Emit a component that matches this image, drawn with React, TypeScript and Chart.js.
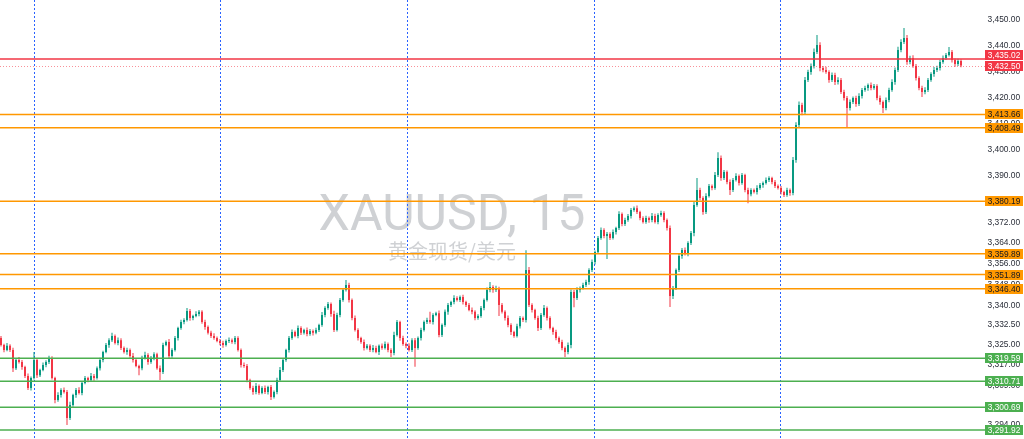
import React, { useEffect, useRef } from 'react';
import { Chart, registerables } from 'chart.js';

Chart.register(...registerables);

// ---------- data ----------
const firstOpen = 3327.4;

const closes: number[] = [
  3324.7,3322.8,3324.4,3322.8,3315.8,3318.9,3318.2,3316.2,3312.8,3308.1,3312.0,3318.9,3313.1,3315.1,3317.0,3318.2,3319.7,3312.0,3303.5,3305.4,
  3307.4,3306.6,3296.6,3301.6,3305.4,3307.4,3306.2,3310.1,3312.0,3311.2,3312.8,3312.0,3315.8,3318.9,3322.0,3324.7,3326.6,3328.2,3325.5,3326.6,
  3323.6,3322.0,3322.8,3320.5,3318.9,3316.6,3315.8,3319.7,3320.9,3318.2,3319.7,3321.2,3315.8,3314.3,3324.7,3325.9,3320.5,3322.8,3327.4,3331.3,
  3333.6,3334.4,3337.8,3335.1,3335.9,3336.7,3337.5,3333.6,3331.7,3329.4,3328.2,3327.4,3326.3,3325.5,3324.7,3326.3,3326.6,3325.9,3327.4,3322.8,
  3317.0,3316.6,3311.2,3308.1,3306.6,3308.9,3306.2,3308.1,3306.6,3308.5,3304.7,3306.6,3311.2,3315.1,3318.9,3322.8,3327.4,3329.7,3328.2,3331.3,
  3329.4,3330.5,3329.0,3330.1,3329.4,3330.5,3332.4,3336.3,3339.0,3340.5,3336.7,3330.5,3336.3,3342.1,3345.9,3347.9,3342.1,3335.1,3330.5,3327.4,
  3325.9,3323.6,3324.4,3322.8,3323.6,3322.0,3324.4,3323.6,3325.1,3322.8,3321.6,3328.6,3333.6,3327.4,3325.1,3324.4,3322.8,3326.6,3323.6,3327.4,
  3330.5,3333.6,3334.4,3333.6,3336.3,3337.0,3328.6,3332.4,3337.5,3340.1,3341.3,3342.8,3342.1,3343.2,3341.3,3340.1,3338.2,3337.5,3335.1,3335.9,
  3339.0,3342.1,3345.9,3347.1,3345.9,3346.7,3340.1,3337.5,3335.1,3332.4,3329.7,3328.2,3332.0,3335.1,3334.4,3353.6,3340.1,3338.2,3335.1,3331.3,
  3336.3,3339.0,3335.1,3331.3,3329.7,3327.4,3325.9,3323.6,3322.0,3324.7,3345.2,3342.8,3345.9,3346.7,3347.9,3349.0,3353.6,3356.7,3360.6,3366.0,
  3369.1,3366.8,3367.5,3366.0,3368.3,3369.8,3375.2,3371.4,3372.9,3374.5,3376.8,3377.5,3376.0,3373.7,3372.2,3373.7,3372.9,3374.5,3372.2,3374.9,
  3375.6,3372.9,3369.8,3343.6,3346.7,3353.6,3359.0,3361.4,3359.8,3364.1,3367.9,3378.7,3384.5,3381.4,3376.0,3382.2,3386.0,3385.3,3390.3,3396.8,
  3389.1,3391.4,3387.6,3384.5,3388.4,3389.9,3387.2,3390.3,3384.5,3382.9,3384.5,3383.7,3385.3,3386.4,3387.2,3388.4,3389.1,3387.6,3386.0,3385.3,
  3383.7,3382.6,3384.5,3383.3,3396.1,3409.6,3417.3,3414.6,3426.9,3430.0,3432.3,3437.7,3440.4,3431.5,3430.8,3430.0,3426.9,3428.8,3426.1,3426.9,
  3422.3,3420.0,3416.1,3418.4,3420.0,3417.7,3420.7,3423.1,3423.8,3425.0,3423.8,3424.6,3420.0,3418.4,3416.1,3419.2,3423.1,3426.1,3430.8,3438.5,
  3441.6,3443.1,3433.9,3435.4,3432.3,3427.7,3423.8,3422.3,3423.1,3426.9,3429.2,3430.8,3431.5,3433.9,3435.4,3436.6,3437.7,3434.6,3433.1,3434.2,
  3432.5,
];

const upperWicks: number[] = [
  0.8,0.5,1.1,0.6,0.9,0.4,1.2,0.7,0.5,0.9,0.6,3.1,0.8,0.5,1.0,0.6,0.9,0.7,0.5,1.1,
  0.6,0.9,0.8,1.2,0.5,0.7,1.0,0.6,0.8,0.5,1.1,0.7,0.6,0.9,0.5,0.8,0.7,1.2,0.6,1.0,
  0.7,0.5,0.9,0.6,1.1,0.8,0.5,0.9,1.2,0.6,0.8,0.7,0.5,1.0,0.9,0.6,1.1,0.7,0.8,0.5,
  0.9,0.6,1.2,0.8,0.5,1.0,0.7,0.6,0.9,0.5,0.8,1.1,0.6,0.7,0.9,0.5,1.0,0.6,0.8,0.7,
  0.6,1.0,0.8,0.5,0.9,1.2,0.6,0.7,1.0,0.5,0.8,0.6,0.9,1.1,0.7,0.5,0.8,1.0,0.6,0.9,
  0.7,0.5,1.0,0.8,0.6,0.9,0.5,1.1,0.7,0.8,0.6,1.2,0.9,0.7,0.5,1.9,0.8,0.6,1.0,0.7,
  0.5,0.9,0.7,0.6,1.1,0.8,0.5,0.9,1.0,0.6,0.7,1.2,0.8,0.5,0.9,0.6,1.0,0.7,0.8,0.6,
  0.9,0.6,0.8,3.1,0.7,0.5,1.0,0.6,0.9,0.8,0.5,1.1,0.7,0.6,0.9,0.5,0.8,1.0,0.6,0.7,
  0.8,0.6,1.0,1.9,0.7,0.9,0.5,0.8,0.6,1.0,0.7,0.5,0.9,0.8,0.6,7.7,1.2,0.7,0.5,0.9,
  0.8,1.1,0.6,0.7,0.5,0.9,0.6,0.8,0.5,1.0,0.9,0.7,1.1,0.6,0.8,0.9,0.7,1.0,0.6,0.8,
  0.9,0.6,0.8,0.7,1.0,0.5,1.1,0.6,0.9,0.7,0.8,0.6,1.0,0.5,0.7,0.9,0.6,1.1,0.8,0.6,
  0.9,0.7,0.6,1.0,0.8,0.6,1.1,0.7,0.9,0.6,0.8,1.2,4.6,0.9,0.7,1.0,0.8,0.6,1.1,2.3,
  1.0,0.8,0.6,0.9,0.7,1.1,0.6,0.8,0.5,0.9,0.7,0.6,1.0,0.8,0.6,0.9,0.7,0.5,0.8,0.6,
  0.7,0.5,0.9,0.6,1.1,1.0,1.3,0.8,1.2,0.9,1.0,1.4,3.9,1.1,0.8,1.2,0.7,1.0,0.9,1.1,
  0.8,0.9,0.7,1.0,0.6,0.8,1.1,0.7,0.9,0.6,1.0,0.8,0.7,0.9,0.6,1.0,0.8,1.1,0.9,1.2,
  1.0,3.9,1.2,0.9,1.1,0.8,0.7,0.9,1.0,0.8,0.7,1.1,0.9,0.8,1.0,0.7,1.9,0.8,0.6,0.9,
  0.7,
];

const lowerWicks: number[] = [
  0.6,0.9,0.5,0.8,1.5,0.7,0.6,1.0,0.8,0.7,0.9,0.6,1.1,0.7,0.5,0.9,0.8,0.6,1.2,0.7,
  0.9,0.6,2.7,0.8,0.7,1.0,0.6,0.9,0.5,0.8,0.7,1.1,0.6,0.9,0.8,0.5,1.0,0.7,0.6,0.9,
  0.8,0.6,1.0,0.7,0.9,0.5,2.7,0.8,0.6,1.1,0.7,0.9,0.6,3.1,0.8,0.5,1.0,0.7,0.6,0.9,
  0.7,0.9,0.6,1.0,0.8,0.5,0.9,0.7,1.1,0.6,0.8,0.7,0.5,0.9,1.0,0.6,0.8,0.7,0.9,0.6,
  1.0,0.7,0.8,0.6,1.1,0.9,0.7,0.5,0.8,1.0,1.2,0.6,0.9,0.7,0.8,0.6,1.0,0.7,0.5,0.9,
  0.8,0.6,0.9,0.7,1.0,0.5,0.8,0.6,0.9,0.7,1.1,0.8,0.6,0.9,0.7,0.5,1.0,0.8,0.6,0.9,
  0.7,1.0,0.6,0.8,0.9,0.5,1.1,0.7,0.6,0.9,1.5,0.8,0.6,1.0,0.7,0.9,0.6,0.8,7.3,0.7,
  0.9,0.6,0.8,0.7,1.0,0.5,0.9,0.8,0.6,1.1,0.7,0.9,0.6,0.8,1.0,0.7,0.5,0.9,0.8,0.6,
  0.7,0.9,0.6,0.8,1.0,0.7,4.2,0.6,0.9,0.8,1.1,0.7,0.6,0.9,0.8,1.0,0.7,0.9,0.6,1.2,
  0.8,0.7,0.9,0.6,1.0,0.8,0.7,0.9,1.9,0.8,1.2,3.5,0.7,0.9,0.6,0.8,1.0,0.7,0.9,0.8,
  0.7,0.9,8.9,0.8,0.6,1.0,0.7,0.9,0.8,0.6,1.0,0.7,0.8,0.9,0.6,0.7,1.0,0.8,0.6,0.9,
  0.7,0.8,0.9,4.2,1.1,0.8,0.7,1.0,0.6,0.9,0.8,1.2,0.7,0.9,1.0,0.8,0.6,0.9,0.7,0.8,
  1.0,0.7,0.9,1.9,0.8,0.6,1.0,0.7,0.9,3.5,0.8,0.6,0.9,0.7,1.0,0.6,0.8,0.9,0.7,0.6,
  0.9,0.8,0.7,1.0,0.8,1.1,0.9,1.3,1.0,0.8,1.1,0.9,0.8,1.2,0.9,0.7,1.0,0.8,1.1,0.9,
  0.8,1.0,7.3,0.9,0.7,1.1,0.8,0.9,0.7,1.0,0.8,0.6,0.9,1.0,1.9,0.8,0.9,0.7,1.0,0.8,
  0.9,0.8,1.1,0.9,0.7,1.0,0.8,1.9,0.9,0.8,0.7,1.0,0.8,0.9,0.7,0.8,0.6,0.9,1.1,0.8,
  0.7,
];

const priceTicks: number[] = [3450, 3440, 3430, 3420, 3410, 3400, 3390, 3380, 3372, 3364, 3356, 3348, 3340, 3332.5, 3325, 3317, 3309, 3301, 3294];
const sessionBreaks: number[] = [11, 73, 135.3, 197.7, 259.7];
const resistanceLevels: number[] = [3413.66, 3408.49, 3380.19, 3359.89, 3351.89, 3346.40];
const supportLevels: number[] = [3319.59, 3310.71, 3300.69, 3291.92];
const referencePrice = 3435.02;
const lastPrice = 3432.5;
const symbolTitle = 'XAUUSD, 15';
const symbolSubtitle = '黄金现货/美元';

// ---------- styles ----------
const UP = '#089981';
const DOWN = '#f23645';
const ORANGE = '#ff9800';
const GREEN = '#4caf50';
const Y_MIN = 3288.47;
const Y_MAX = 3457.77;
const X_MIN = -1 / 3;
const X_MAX = 341;
const AXIS_LEFT = 985;

const fmt = (v: number) => v.toLocaleString('en-US', { minimumFractionDigits: 2, maximumFractionDigits: 2 });

const overlayPlugin = {
  id: 'tvOverlay',
  beforeDatasetsDraw(chart: any) {
    const { ctx, scales } = chart;
    const xs = scales.x;
    ctx.save();
    // watermark
    ctx.fillStyle = 'rgba(178,180,186,0.62)';
    ctx.textAlign = 'center';
    ctx.textBaseline = 'alphabetic';
    ctx.font = '50px Roboto, "Noto Sans", sans-serif';
    ctx.fillText(symbolTitle, 452, 230);
    ctx.font = '20px "Noto Sans CJK SC", sans-serif';
    ctx.fillText(symbolSubtitle, 452, 259);
    // session separators
    ctx.strokeStyle = '#2962ff';
    ctx.lineWidth = 1;
    ctx.setLineDash([2, 2]);
    sessionBreaks.forEach((v) => {
      const px = Math.round(xs.getPixelForValue(v)) + 0.5;
      ctx.beginPath();
      ctx.moveTo(px, 0);
      ctx.lineTo(px, chart.height);
      ctx.stroke();
    });
    ctx.restore();
  },
  afterDatasetsDraw(chart: any) {
    const { ctx, scales } = chart;
    const ys = scales.y;
    ctx.save();
    const hline = (v: number, color: string, w: number, dash: number[]) => {
      const raw = ys.getPixelForValue(v);
      const py = w === 1 ? Math.round(raw) + 0.5 : raw;
      ctx.strokeStyle = color;
      ctx.lineWidth = w;
      ctx.setLineDash(dash);
      ctx.beginPath();
      ctx.moveTo(0, py);
      ctx.lineTo(AXIS_LEFT, py);
      ctx.stroke();
    };
    resistanceLevels.forEach((v) => hline(v, ORANGE, 1.5, []));
    supportLevels.forEach((v) => hline(v, GREEN, 1.5, []));
    hline(referencePrice, DOWN, 1.4, []);
    hline(lastPrice, 'rgba(242,54,69,0.55)', 1, [1, 2]);
    ctx.restore();
  },
  afterDraw(chart: any) {
    const { ctx, scales } = chart;
    const ys = scales.y;
    ctx.save();
    ctx.font = '8.4px "Liberation Sans", Arial, sans-serif';
    ctx.textBaseline = 'middle';
    ctx.textAlign = 'left';
    ctx.fillStyle = '#2a2e39';
    priceTicks.forEach((v) => {
      ctx.fillText(fmt(v), AXIS_LEFT + 2.5, ys.getPixelForValue(v));
    });

    const boxH = 10;
    const lastY = ys.getPixelForValue(lastPrice);
    const boxes: { v: number; bg: string; fg: string; y: number }[] = [];
    resistanceLevels.forEach((v) => boxes.push({ v, bg: ORANGE, fg: '#131722', y: ys.getPixelForValue(v) }));
    supportLevels.forEach((v) => boxes.push({ v, bg: GREEN, fg: '#ffffff', y: ys.getPixelForValue(v) }));
    let refY = ys.getPixelForValue(referencePrice);
    if (Math.abs(refY - lastY) < boxH + 1) refY = lastY - (boxH + 1);
    boxes.push({ v: referencePrice, bg: DOWN, fg: '#ffffff', y: refY });
    boxes.push({ v: lastPrice, bg: DOWN, fg: '#ffffff', y: lastY });

    ctx.textAlign = 'center';
    boxes.forEach((b) => {
      const top = Math.round(b.y - boxH / 2);
      ctx.fillStyle = b.bg;
      ctx.fillRect(AXIS_LEFT, top, 38, boxH);
      ctx.fillStyle = b.fg;
      ctx.fillText(fmt(b.v), AXIS_LEFT + 19, top + boxH / 2 + 0.5);
    });
    ctx.restore();
  },
};

export default function App() {
  const canvasRef = useRef<HTMLCanvasElement | null>(null);

  useEffect(() => {
    const canvas = canvasRef.current;
    if (!canvas) return;
    const opens = closes.map((_, i) => (i === 0 ? firstOpen : closes[i - 1]));
    const highs = closes.map((c, i) => Math.max(c, opens[i]) + upperWicks[i]);
    const lows = closes.map((c, i) => Math.min(c, opens[i]) - lowerWicks[i]);
    const colors = closes.map((c, i) => (c >= opens[i] ? UP : DOWN));

    const chart = new Chart(canvas, {
      type: 'bar',
      data: {
        datasets: [
          {
            label: 'wicks',
            data: closes.map((_, i) => ({ x: i, y: [lows[i], highs[i]] })) as any,
            backgroundColor: colors,
            barThickness: 1,
            grouped: false,
            borderWidth: 0,
            inflateAmount: 0,
            order: 2,
          } as any,
          {
            label: 'bodies',
            data: closes.map((c, i) => ({ x: i, y: [opens[i], c] })) as any,
            backgroundColor: colors,
            barThickness: 2,
            minBarLength: 1,
            grouped: false,
            borderWidth: 0,
            inflateAmount: 0,
            order: 1,
          } as any,
        ],
      },
      options: {
        animation: false,
        responsive: true,
        maintainAspectRatio: false,
        layout: { padding: 0 },
        plugins: { legend: { display: false }, tooltip: { enabled: false } },
        scales: {
          x: { type: 'linear', min: X_MIN, max: X_MAX, display: false, offset: false },
          y: { type: 'linear', min: Y_MIN, max: Y_MAX, display: false },
        },
      },
      plugins: [overlayPlugin],
    });
    return () => chart.destroy();
  }, []);

  return (
    <div style={{ position: 'fixed', left: 0, top: 0, width: 1024, height: 439, background: '#ffffff' }}>
      <canvas ref={canvasRef} />
    </div>
  );
}
